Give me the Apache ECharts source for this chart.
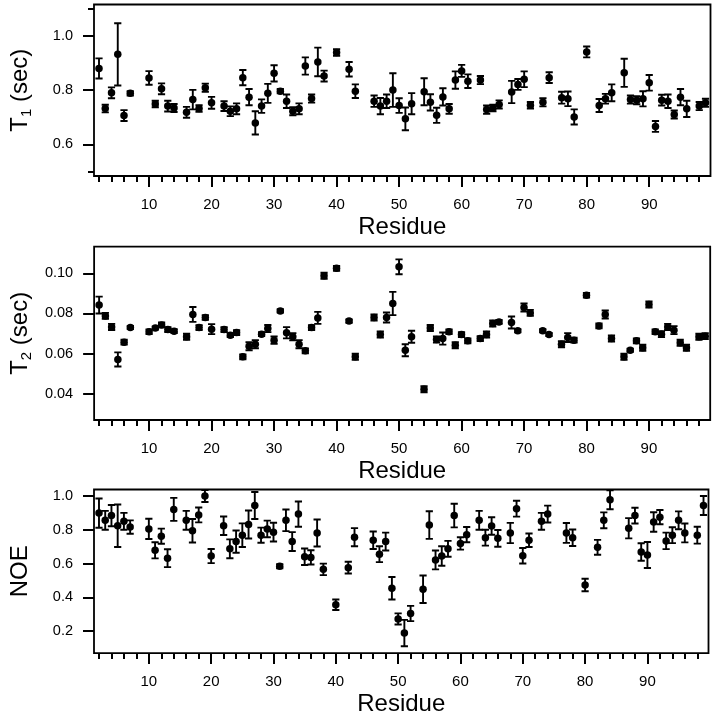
<!DOCTYPE html>
<html><head><meta charset="utf-8">
<script src="https://cdn.jsdelivr.net/npm/echarts@6/dist/echarts.min.js"></script>
<style>html,body{margin:0;padding:0;background:#fff}#c{width:715px;height:719px}</style>
</head><body><div id="c"></div>
<script>
// ---- data ----
const residues = [2,3,4,5,6,7,10,11,12,13,14,16,17,18,19,20,22,23,24,25,26,27,28,29,30,31,32,33,34,35,36,37,38,40,42,43,46,47,48,49,50,51,52,54,55,56,57,58,59,60,61,63,64,65,66,68,69,70,71,73,74,76,77,78,80,82,83,84,86,87,88,89,90,91,92,93,94,95,96,98,99];
const t1Values = [0.880,0.732,0.790,0.932,0.706,0.788, 0.845,0.749,0.805,0.741,0.734, 0.718,0.765,0.732,0.809,0.753, 0.741,0.722,0.731,0.846,0.774,0.679,0.741,0.788,0.862,0.796,0.759,0.722,0.731,0.889,0.769,0.904,0.852, 0.939, 0.877,0.796, 0.759,0.741,0.759,0.800,0.743,0.694,0.750, 0.794,0.755,0.707,0.775,0.731,0.837,0.871,0.833, 0.837,0.728,0.734,0.747, 0.793,0.821,0.840,0.744, 0.755,0.846, 0.772,0.768,0.701, 0.941, 0.743,0.768,0.790, 0.864,0.765,0.763,0.768,0.827,0.666,0.763,0.759,0.710,0.774,0.731, 0.741,0.753];
const t1Errors = [0.037,0.014,0.020,0.115,0.020,0.008, 0.025,0.012,0.020,0.020,0.015, 0.020,0.036,0.012,0.015,0.022, 0.018,0.018,0.020,0.028,0.030,0.043,0.025,0.035,0.030,0.008,0.025,0.015,0.020,0.032,0.015,0.053,0.020, 0.012, 0.027,0.025, 0.021,0.030,0.025,0.062,0.027,0.042,0.039, 0.050,0.030,0.028,0.032,0.018,0.032,0.022,0.025, 0.015,0.015,0.012,0.015, 0.041,0.020,0.029,0.012, 0.015,0.020, 0.022,0.027,0.028, 0.020, 0.024,0.018,0.031, 0.052,0.015,0.015,0.028,0.029,0.020,0.020,0.025,0.015,0.030,0.030, 0.015,0.015];
const t2Values = [0.0842,0.0788,0.0733,0.0571,0.0657,0.0730, 0.0709,0.0728,0.0743,0.0720,0.0712, 0.0684,0.0795,0.0730,0.0780,0.0722, 0.0720,0.0692,0.0705,0.0584,0.0637,0.0647,0.0697,0.0725,0.0667,0.0813,0.0704,0.0684,0.0647,0.0614,0.0730,0.0778,0.0988, 0.1025, 0.0762,0.0584, 0.0780,0.0695,0.0780,0.0850,0.1033,0.0617,0.0684, 0.0422,0.0728,0.0670,0.0675,0.0709,0.0642,0.0695,0.0664, 0.0675,0.0695,0.0750,0.0758, 0.0755,0.0714,0.0830,0.0803, 0.0714,0.0695, 0.0647,0.0680,0.0667, 0.0891, 0.0738,0.0795,0.0675, 0.0584,0.0617,0.0664,0.0629,0.0845,0.0709,0.0697,0.0733,0.0717,0.0654,0.0629, 0.0684,0.0687];
const t2Errors = [0.0042,0.0015,0.0015,0.0035,0.0012,0.0008, 0.0012,0.0008,0.0012,0.0012,0.0010, 0.0015,0.0037,0.0012,0.0012,0.0025, 0.0012,0.0010,0.0012,0.0012,0.0020,0.0020,0.0010,0.0018,0.0018,0.0008,0.0028,0.0018,0.0020,0.0012,0.0012,0.0030,0.0015, 0.0012, 0.0008,0.0015, 0.0015,0.0015,0.0025,0.0058,0.0037,0.0030,0.0030, 0.0015,0.0015,0.0015,0.0030,0.0012,0.0015,0.0012,0.0012, 0.0012,0.0015,0.0015,0.0010, 0.0030,0.0008,0.0020,0.0015, 0.0008,0.0008, 0.0015,0.0022,0.0012, 0.0012, 0.0012,0.0020,0.0015, 0.0015,0.0008,0.0012,0.0015,0.0015,0.0012,0.0015,0.0015,0.0020,0.0015,0.0015, 0.0015,0.0015];
const noeResidues = [2,3,4,5,6,7,10,11,12,13,14,16,17,18,19,20,22,23,24,25,26,27,28,29,30,31,32,33,34,35,36,37,38,40,42,43,46,47,48,49,50,51,52,54,55,56,57,58,59,60,61,63,64,65,66,68,69,70,71,73,74,77,78,80,82,83,84,87,88,89,90,91,92,93,94,95,96,98,99];
const noeValues = [0.900,0.857,0.885,0.825,0.851,0.817, 0.806,0.679,0.763,0.632,0.922, 0.857,0.795,0.889,1.001,0.645, 0.825,0.688,0.731,0.769,0.832,0.945,0.769,0.806,0.787,0.585,0.857,0.731,0.894,0.641,0.637,0.782,0.566, 0.356, 0.576,0.757, 0.739,0.656,0.731,0.454,0.272,0.188,0.304, 0.448,0.829,0.622,0.645,0.688,0.885,0.720,0.772, 0.857,0.754,0.823,0.750, 0.782,0.926,0.647,0.739, 0.851,0.894, 0.782,0.754, 0.473, 0.697,0.857,0.979, 0.810,0.885,0.669,0.651,0.847,0.876,0.735,0.769,0.857,0.782, 0.769,0.945];
const noeErrors = [0.087,0.056,0.063,0.126,0.050,0.040, 0.060,0.048,0.045,0.053,0.068, 0.056,0.070,0.044,0.035,0.042, 0.055,0.056,0.066,0.070,0.083,0.080,0.045,0.049,0.056,0.012,0.064,0.056,0.075,0.049,0.042,0.080,0.034, 0.031, 0.035,0.054, 0.052,0.047,0.053,0.067,0.033,0.078,0.045, 0.082,0.082,0.056,0.058,0.047,0.070,0.037,0.045, 0.056,0.047,0.052,0.050, 0.060,0.047,0.046,0.040, 0.050,0.050, 0.059,0.049, 0.037, 0.044,0.047,0.056, 0.060,0.047,0.052,0.077,0.058,0.042,0.049,0.047,0.053,0.056, 0.050,0.056];
const xMajorTicks = [10,20,30,40,50,60,70,80,90];
const xMinorTicks = [2,4,6,8,12,14,16,18,22,24,26,28,32,34,36,38,42,44,46,48,52,54,56,58,62,64,66,68,72,74,76,78,82,84,86,88,92,94,96,98];
const t1MajorTicks = [0.6,0.8,1.0];
const t1MinorTicks = [0.5,1.1];
const t2Ticks = [0.04,0.06,0.08,0.10];
const noeTicks = [0.2,0.4,0.6,0.8,1.0];

// ---- chart ----
const FONT = '"Liberation Sans", Arial, Helvetica, sans-serif';
const BLACK = '#000';
const chart = echarts.init(document.getElementById('c'), null, {renderer: 'canvas'});

const panels = [
  {res: residues, val: t1Values, err: t1Errors, grid: {left: 92.5, top: 4.5, width: 618, height: 171.5},
   yMin: 0.483, yMax: 1.116, yMajor: t1MajorTicks, yMinor: t1MinorTicks, dec: 1, yName: '{t|T}{s|1}{t| (sec)}'},
  {res: residues, val: t2Values, err: t2Errors, grid: {left: 91.7, top: 246.7, width: 618.5, height: 173.3},
   yMin: 0.0269, yMax: 0.1133, yMajor: t2Ticks, yMinor: [], dec: 2, yName: '{t|T}{s|2}{t| (sec)}'},
  {res: noeResidues, val: noeValues, err: noeErrors, grid: {left: 90.5, top: 489.5, width: 618, height: 172.8},
   yMin: 0.069, yMax: 1.040, yMajor: noeTicks, yMinor: [], dec: 1, yName: '{t|NOE}'}
];

const grids = [], xAxes = [], yAxes = [], series = [];
const tickStyle = {color: BLACK, width: 2};
panels.forEach((p, i) => {
  grids.push(Object.assign({show: true, borderColor: BLACK, borderWidth: 1.8, backgroundColor: 'transparent', containLabel: false}, p.grid));
  const xi = xAxes.length;
  xAxes.push({
    gridIndex: i, type: 'value', min: 1.2, max: 99.8, position: 'bottom',
    axisLine: {show: false}, splitLine: {show: false},
    axisTick: {show: true, inside: false, length: 11, customValues: xMajorTicks, lineStyle: tickStyle},
    axisLabel: {show: true, customValues: xMajorTicks, margin: 21, color: BLACK, fontSize: 15, fontFamily: FONT},
    name: 'Residue', nameLocation: 'middle', nameGap: 33,
    nameTextStyle: {fontSize: 24, fontFamily: FONT, color: BLACK, lineHeight: 28}
  });
  xAxes.push({
    gridIndex: i, type: 'value', min: 1.2, max: 99.8, position: 'bottom',
    axisLine: {show: false}, splitLine: {show: false},
    axisTick: {show: true, inside: false, length: 6, customValues: xMinorTicks, lineStyle: tickStyle},
    axisLabel: {show: false}
  });
  const yi = yAxes.length;
  yAxes.push({
    gridIndex: i, type: 'value', min: p.yMin, max: p.yMax, position: 'left',
    axisLine: {show: false}, splitLine: {show: false},
    axisTick: {show: true, inside: false, length: 11, customValues: p.yMajor, lineStyle: tickStyle},
    axisLabel: {show: true, customValues: p.yMajor, margin: 21, color: BLACK, fontSize: 14.5, fontFamily: FONT,
      formatter: (v) => Number(v).toFixed(p.dec)},
    name: p.yName, nameLocation: 'middle', nameGap: 60,
    nameTextStyle: {rich: {
      t: {fontSize: 24, fontFamily: FONT, color: BLACK, lineHeight: 28},
      s: {fontSize: 15, fontFamily: FONT, color: BLACK, lineHeight: 15, verticalAlign: 'bottom'}
    }}
  });
  if (p.yMinor.length) {
    yAxes.push({
      gridIndex: i, type: 'value', min: p.yMin, max: p.yMax, position: 'left',
      axisLine: {show: false}, splitLine: {show: false},
      axisTick: {show: true, inside: false, length: 6, customValues: p.yMinor, lineStyle: tickStyle},
      axisLabel: {show: false}
    });
  }
  series.push({
    type: 'custom', xAxisIndex: xi, yAxisIndex: yi, clip: true, silent: true, z: 2,
    data: p.res.map((r, k) => [r, p.val[k], p.err[k]]),
    encode: {x: 0, y: 1},
    renderItem: (params, api) => {
      const x = api.value(0), y = api.value(1), e = api.value(2);
      const lo = api.coord([x, y - e]);
      const hi = api.coord([x, y + e]);
      const hw = 3.6;
      const st = {stroke: BLACK, lineWidth: 1.9, fill: null};
      return {type: 'group', children: [
        {type: 'line', shape: {x1: lo[0], y1: lo[1], x2: hi[0], y2: hi[1]}, style: st},
        {type: 'line', shape: {x1: lo[0] - hw, y1: lo[1], x2: lo[0] + hw, y2: lo[1]}, style: st},
        {type: 'line', shape: {x1: hi[0] - hw, y1: hi[1], x2: hi[0] + hw, y2: hi[1]}, style: st}
      ]};
    }
  });
  series.push({
    type: 'scatter', xAxisIndex: xi, yAxisIndex: yi, z: 3, silent: true,
    data: p.res.map((r, k) => [r, p.val[k]]),
    symbol: 'circle', symbolSize: 7.5, itemStyle: {color: BLACK, opacity: 1}
  });
});

chart.setOption({
  animation: false,
  backgroundColor: '#fff',
  grid: grids, xAxis: xAxes, yAxis: yAxes, series: series
});
</script>
</body></html>
